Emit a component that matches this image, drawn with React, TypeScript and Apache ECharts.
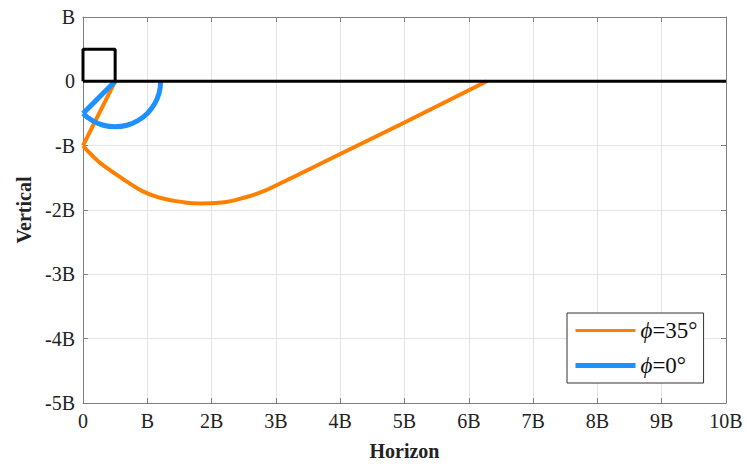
import React, { useEffect, useRef } from "react";
import * as echarts from "echarts";

const xTicks = [0, 1, 2, 3, 4, 5, 6, 7, 8, 9, 10];
const yTicks = [-5, -4, -3, -2, -1, 0, 1];

// phi = 35°: straight start, then curve
const orangeStart: [number, number][] = [[0.5, 0], [0, -1]];
const orangeCurve: [number, number][] = [
  [0, -1], [0.08, -1.09], [0.16, -1.17], [0.28, -1.28], [0.42, -1.38],
  [0.55, -1.47], [0.7, -1.57], [0.93, -1.71], [1.2, -1.81], [1.5, -1.87],
  [1.82, -1.9], [2.2, -1.88], [2.5, -1.81], [2.75, -1.73], [3.0, -1.62],
  [4.0, -1.13], [5.0, -0.64], [6.28, 0],
];
// phi = 0°: straight start, then arc
const blueStart: [number, number][] = [[0.5, 0], [0, -0.5]];
const blueArc: [number, number][] = [
  [0, -0.5], [0.146, -0.612], [0.317, -0.683], [0.5, -0.707],
  [0.683, -0.683], [0.854, -0.612], [1.0, -0.5], [1.112, -0.354],
  [1.183, -0.183], [1.207, 0],
];
const squareData: [number, number][] = [[0, 0], [0, 0.5], [0.5, 0.5], [0.5, 0]];
const baseLine: [number, number][] = [[0, 0], [10, 0]];

const fmt = (v: number) =>
  v === 0 ? "0" : v === 1 ? "B" : v === -1 ? "-B" : `${v}B`;

const FONT = "'Times New Roman', 'Liberation Serif', serif";
const GRAY = "#7f7f7f";
const ORANGE = "#ff8000";
const BLUE = "#1e90ff";

export default function App() {
  const ref = useRef<HTMLDivElement>(null);
  useEffect(() => {
    const chart = echarts.init(ref.current!, undefined, { renderer: "svg" });
    const baseAxis = {
      type: "value" as const,
      interval: 1,
      axisLine: { show: true, onZero: false, lineStyle: { color: GRAY, width: 1 } },
      axisTick: { show: true, inside: true, length: 5, lineStyle: { color: GRAY } },
    };
    const line = (name: string, data: [number, number][], color: string, width: number, smooth: boolean, z: number) => ({
      name,
      type: "line",
      data,
      symbol: "none",
      smooth,
      lineStyle: { color, width },
      itemStyle: { color },
      z,
    });
    chart.setOption({
      animation: false,
      backgroundColor: "#fff",
      grid: { left: 83, right: 21, top: 17, bottom: 65, containLabel: false },
      xAxis: [
        {
          ...baseAxis,
          min: xTicks[0],
          max: xTicks[xTicks.length - 1],
          position: "bottom",
          name: "Horizon",
          nameLocation: "middle",
          nameGap: 38,
          nameTextStyle: { fontFamily: FONT, fontWeight: "bold", fontSize: 20, color: "#222" },
          axisLabel: { fontFamily: FONT, fontSize: 20, color: "#222", margin: 8, formatter: fmt },
          splitLine: { show: true, lineStyle: { color: "#e3e3e3", width: 1 } },
        },
        {
          ...baseAxis,
          min: xTicks[0],
          max: xTicks[xTicks.length - 1],
          position: "top",
          axisLabel: { show: false },
          splitLine: { show: false },
        },
      ],
      yAxis: [
        {
          ...baseAxis,
          min: yTicks[0],
          max: yTicks[yTicks.length - 1],
          position: "left",
          name: "Vertical",
          nameLocation: "middle",
          nameGap: 42,
          nameTextStyle: { fontFamily: FONT, fontWeight: "bold", fontSize: 20, color: "#222" },
          axisLabel: { fontFamily: FONT, fontSize: 20, color: "#222", margin: 8, formatter: fmt },
          splitLine: { show: true, lineStyle: { color: "#e3e3e3", width: 1 } },
        },
        {
          ...baseAxis,
          min: yTicks[0],
          max: yTicks[yTicks.length - 1],
          position: "right",
          axisLabel: { show: false },
          splitLine: { show: false },
        },
      ],
      legend: {
        orient: "vertical",
        left: 567,
        top: 313,
        padding: [6, 6, 6, 6],
        itemWidth: 60,
        itemHeight: 14,
        itemGap: 12,
        borderColor: "#333",
        borderWidth: 1,
        backgroundColor: "#fff",
        borderRadius: 0,
        data: [
          { name: "phi35", lineStyle: { width: 3 }, itemStyle: { opacity: 0 } },
          { name: "phi0", lineStyle: { width: 5 }, itemStyle: { opacity: 0 } },
        ],
        formatter: (n: string) => (n === "phi35" ? "{i|ϕ}=35°" : "{i|ϕ}=0°"),
        textStyle: {
          fontFamily: FONT,
          fontSize: 23,
          color: "#111",
          rich: { i: { fontFamily: FONT, fontStyle: "italic", fontSize: 23, color: "#111" } },
        },
      },
      series: [
        line("phi35", orangeStart, ORANGE, 4, false, 2),
        line("phi35", orangeCurve, ORANGE, 4, true, 2),
        line("phi0", blueStart, BLUE, 5, false, 3),
        line("phi0", blueArc, BLUE, 5, true, 3),
        line("square", squareData, "#000", 3, false, 4),
        line("base", baseLine, "#000", 3, false, 4),
      ],
    });
    return () => chart.dispose();
  }, []);
  return (
    <div
      ref={ref}
      style={{ position: "fixed", left: 0, top: 0, width: 747, height: 468 }}
    />
  );
}
